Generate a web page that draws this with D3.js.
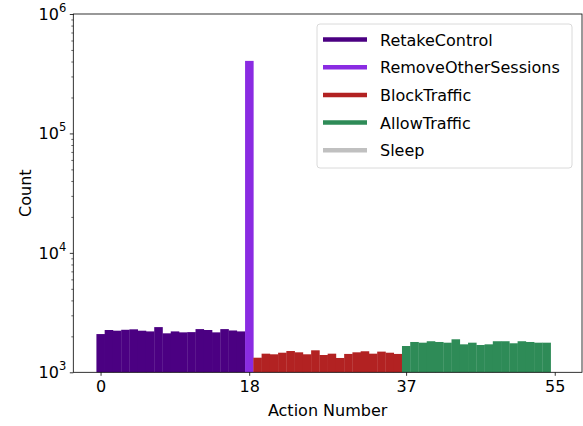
<!DOCTYPE html>
<html>
<head>
<meta charset="utf-8">
<script src="https://cdn.jsdelivr.net/npm/d3@7"></script>
<style>
  body { margin: 0; background: #fff; }
</style>
</head>
<body>
<div id="chart"></div>
<script>
// categories and their colours (legend order)
var categories = ["RetakeControl", "RemoveOtherSessions", "BlockTraffic", "AllowTraffic", "Sleep"];
var colors = ["#4b0082", "#8a2be2", "#b22222", "#2e8b57", "#c0c0c0"];

// counts per action number (actions 0..55)
var retakeCounts = [2090, 2260, 2230, 2270, 2290, 2230, 2200, 2390, 2120, 2200, 2160, 2170, 2300, 2260, 2160, 2300, 2240, 2200];
var removeCounts = [405000];
var blockCounts = [1325, 1432, 1415, 1459, 1507, 1470, 1415, 1528, 1396, 1432, 1318, 1425, 1470, 1500, 1432, 1490, 1459, 1425];
var allowCounts = [1660, 1794, 1770, 1820, 1794, 1770, 1890, 1715, 1770, 1693, 1715, 1820, 1820, 1750, 1820, 1794, 1770, 1770];
var sleepCounts = [0]; // below 10^3, not visible

var xTicks = [0, 18, 37, 55];
var yTicks = [1e3, 1e4, 1e5, 1e6];

var FONT = "'DejaVu Sans', sans-serif";

var groups = [retakeCounts, removeCounts, blockCounts, allowCounts, sleepCounts];
var data = [];
groups.forEach(function(g, ci) {
    g.forEach(function(v) {
        data.push({action: data.length, count: v, cat: ci});
    });
});

const W = 583, H = 426;
const plot = {left: 73.3, right: 582, top: 14, bottom: 372.3};

var svg = d3.select("#chart").append("svg")
    .attr("width", W)
    .attr("height", H);

var x = d3.scaleLinear().domain([-3.3, 58.3]).range([plot.left, plot.right]);
var y = d3.scaleLog().domain([1e3, 1e6]).range([plot.bottom, plot.top]);

// bars (width 1 centred on each action)
var ymin = y.domain()[0];
svg.append("g").selectAll("rect")
    .data(data.filter(d => d.count > ymin))
    .enter().append("rect")
    .attr("x", d => x(d.action - 0.5))
    .attr("width", d => x(d.action + 0.5) - x(d.action - 0.5) + 0.3)
    .attr("y", d => y(d.count))
    .attr("height", d => y(ymin) - y(d.count))
    .attr("fill", d => colors[d.cat]);

// x axis
var xAxis = svg.append("g")
    .attr("transform", "translate(0," + plot.bottom + ")")
    .call(d3.axisBottom(x).tickValues(xTicks).tickSize(3.5).tickPadding(5).tickSizeOuter(0));
xAxis.select(".domain").remove();
xAxis.selectAll("text")
    .style("font-family", FONT)
    .style("font-size", "16px")
    .attr("fill", "#000");
xAxis.selectAll("line").attr("stroke", "#000").attr("stroke-width", 0.8);

// y axis with minor ticks
var minor = [];
[1e3, 1e4, 1e5].forEach(function(b) {
    for (var k = 2; k <= 9; k++) minor.push(b * k);
});
var yMinor = svg.append("g")
    .attr("transform", "translate(" + plot.left + ",0)")
    .call(d3.axisLeft(y).tickValues(minor).tickSize(2).tickFormat(""));
yMinor.select(".domain").remove();
yMinor.selectAll("line").attr("stroke", "#000").attr("stroke-width", 0.6);

var yAxis = svg.append("g")
    .attr("transform", "translate(" + plot.left + ",0)")
    .call(d3.axisLeft(y).tickValues(yTicks).tickSize(3.5).tickFormat(""));
yAxis.select(".domain").remove();
yAxis.selectAll("line").attr("stroke", "#000").attr("stroke-width", 0.8);

// y tick labels as 10 with superscript exponent
var ylab = svg.append("g").selectAll("text")
    .data(yTicks)
    .enter().append("text")
    .attr("x", plot.left - 7)
    .attr("y", d => y(d) + 6)
    .attr("text-anchor", "end")
    .style("font-family", FONT)
    .style("font-size", "16px");
ylab.append("tspan").text("10");
ylab.append("tspan")
    .attr("dy", -8)
    .style("font-size", "11.5px")
    .text(d => Math.round(Math.log10(d)));

// frame
svg.append("rect")
    .attr("x", plot.left)
    .attr("y", plot.top)
    .attr("width", plot.right - plot.left)
    .attr("height", plot.bottom - plot.top)
    .attr("fill", "none")
    .attr("stroke", "#000")
    .attr("stroke-width", 0.8);

// axis titles
svg.append("text")
    .attr("x", (plot.left + plot.right) / 2)
    .attr("y", 416)
    .attr("text-anchor", "middle")
    .style("font-family", FONT)
    .style("font-size", "16px")
    .text("Action Number");

svg.append("text")
    .attr("transform", "translate(31," + ((plot.top + plot.bottom) / 2) + ") rotate(-90)")
    .attr("text-anchor", "middle")
    .style("font-family", FONT)
    .style("font-size", "16px")
    .text("Count");

// legend
var legend = svg.append("g").attr("transform", "translate(317,24)");
legend.append("rect")
    .attr("width", 255)
    .attr("height", 144)
    .attr("rx", 3)
    .attr("fill", "#fff")
    .attr("fill-opacity", 0.8)
    .attr("stroke", "#d0d0d0")
    .attr("stroke-width", 0.8);

var item = legend.selectAll(".item")
    .data(categories)
    .enter().append("g")
    .attr("class", "item")
    .attr("transform", (d, i) => "translate(0," + (15.5 + i * 27.7) + ")");
item.append("line")
    .attr("x1", 6).attr("x2", 50)
    .attr("stroke", (d, i) => colors[i])
    .attr("stroke-width", 4.5);
item.append("text")
    .attr("x", 63)
    .attr("y", 6)
    .style("font-family", FONT)
    .style("font-size", "16px")
    .text(d => d);
</script>
</body>
</html>
